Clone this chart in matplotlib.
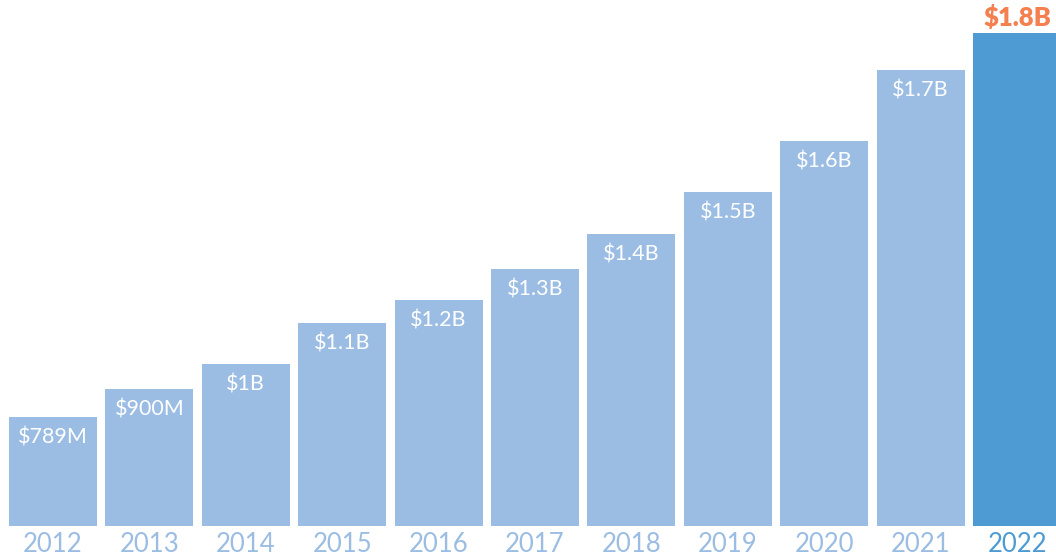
import matplotlib
matplotlib.use("Agg")
import matplotlib.pyplot as plt

years = ["2012", "2013", "2014", "2015", "2016", "2017", "2018", "2019", "2020", "2021", "2022"]
revenue = [0.787, 0.861, 0.926, 1.034, 1.095, 1.176, 1.268, 1.379, 1.513, 1.700, 1.797]  # $B
labels = ["$789M", "$900M", "$1B", "$1.1B", "$1.2B", "$1.3B", "$1.4B", "$1.5B", "$1.6B", "$1.7B", "$1.8B"]

light = "#9bbde3"
dark = "#4e9bd4"
orange = "#f47f4f"

plt.rcParams['font.family'] = ['Lato', 'DejaVu Sans']

fig = plt.figure(figsize=(10.56, 5.57), dpi=100)
ax = fig.add_axes([9 / 1056, 31 / 557, 1047 / 1056, 526 / 557])

x = list(range(len(years)))
colors = [light] * (len(years) - 1) + [dark]
base = 0.5
ax.bar(x, [v - base for v in revenue], bottom=base, width=0.913, color=colors)

ax.set_xlim(-0.4565, -0.4565 + 1047 / 96.4)
ax.set_ylim(base, base + 526 / 380)

for i, (v, lab) in enumerate(zip(revenue, labels)):
    if i == len(years) - 1:
        ax.annotate(lab, (i, v), xytext=(0.5, 2), textcoords="offset points",
                    ha="center", va="bottom", color=orange, fontsize=18.5,
                    fontweight="heavy", annotation_clip=False)
    else:
        ax.annotate(lab, (i, v), xytext=(0, -15), textcoords="offset points",
                    ha="center", va="center", color="white", fontsize=15.5)
    ax.annotate(years[i], (i, base), xytext=(0, -18.5), textcoords="offset points",
                ha="center", va="baseline", fontsize=18.5,
                color=dark if i == len(years) - 1 else light,
                annotation_clip=False)

ax.axis("off")
fig.savefig("out.png", dpi=100)
